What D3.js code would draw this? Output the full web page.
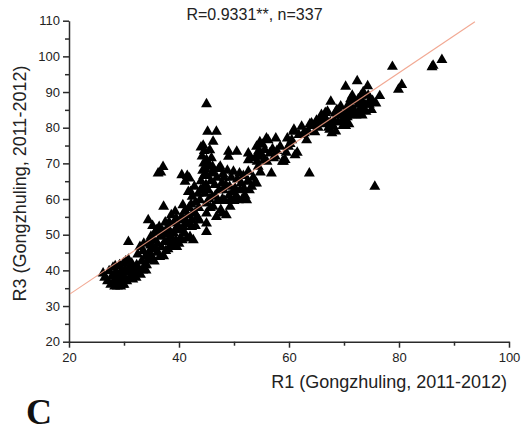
<!DOCTYPE html>
<html lang="en">
<head>
  <meta charset="UTF-8">
  <title>R1 vs R3 Gongzhuling</title>
  <script src="https://d3js.org/d3.v7.min.js"></script>
  <style>
    body { margin: 0; background: #fff; }
    svg { display: block; }
    .axis path, .axis line { stroke: #2a2a2a; stroke-width: 1.5px; }
    .axis text { font-family: "Liberation Sans", Arial, sans-serif; font-size: 13px; fill: #222; }
    .lbl { font-family: "Liberation Sans", Arial, sans-serif; fill: #222; }
  </style>
</head>
<body>
<script>
// R1 (x) and R3 (y); one line per x-band, r1/r3 lines align
const r1 = [
  26.2,26.5,27.0,27.3,27.6,27.8,28.0,28.0,
  28.3,28.5,28.6,28.8,29.0,29.0,29.2,29.4,29.5,29.6,29.8,29.9,28.4,29.3,28.9,28.2,
  30.0,30.1,30.2,30.3,30.5,30.6,30.8,30.8,31.0,31.0,31.2,31.4,31.6,31.7,31.9,
  32.0,32.2,32.3,32.5,32.7,32.9,33.0,33.2,33.4,33.5,33.6,33.8,33.9,34.0,
  34.1,34.3,34.4,34.5,34.7,34.8,34.9,35.0,35.2,35.4,35.5,35.6,35.8,35.9,35.2,34.6,
  36.0,36.1,36.2,36.4,36.5,36.6,36.7,36.8,37.0,37.1,37.2,37.2,37.4,37.5,37.6,37.7,37.9,36.3,
  38.0,38.1,38.2,38.3,38.4,38.5,38.6,38.8,39.0,39.0,39.2,39.4,39.5,39.6,39.7,39.8,40.0,39.3,
  40.2,40.3,40.4,40.5,40.5,40.6,40.7,40.8,41.0,41.0,41.1,41.2,41.4,41.4,41.5,41.6,41.7,41.8,42.0,41.9,
  42.1,42.2,42.3,42.3,42.4,42.5,42.6,42.8,42.9,43.0,43.0,43.3,43.5,43.6,43.7,43.8,43.9,44.0,
  44.0,44.2,44.3,44.4,44.5,44.5,44.6,44.7,44.8,44.9,45.0,45.0,45.0,45.0,45.0,45.0,45.1,45.2,45.3,45.4,45.5,45.6,45.7,45.8,45.9,46.0,46.0,44.3,
  46.1,46.2,46.2,46.3,46.5,46.6,46.8,46.8,46.9,47.0,47.2,47.3,47.5,47.6,47.8,47.8,47.9,48.0,
  48.1,48.2,48.3,48.5,48.6,48.8,49.0,49.0,49.1,49.2,49.3,49.3,49.5,49.8,49.9,50.0,
  50.2,50.4,50.5,50.6,50.8,51.0,51.1,51.3,51.5,51.7,51.8,52.0,
  52.3,52.5,52.6,52.6,52.6,52.6,52.8,53.0,53.2,53.5,53.8,54.0,
  54.1,54.1,54.2,54.4,54.4,54.5,54.7,54.8,55.0,55.2,55.5,55.9,55.6,
  56.2,56.5,56.8,57.0,57.2,57.6,57.5,56.0,57.8,
  58.4,58.8,59.0,59.3,59.9,59.5,59.7,60.5,60.8,61.1,60.2,61.5,61.8,60.9,
  62.3,63.2,63.7,63.5,62.8,63.8,62.5,64.0,64.1,64.7,65.0,65.3,65.5,65.9,64.5,65.7,
  66.2,66.5,66.8,67.0,67.2,67.4,67.6,67.8,68.0,66.6,67.5,68.2,68.4,68.5,68.7,68.9,69.2,69.4,69.6,69.8,70.0,68.8,
  70.1,70.3,70.3,70.5,70.6,70.8,70.9,71.0,71.2,71.3,71.4,71.6,71.9,72.0,72.2,72.4,72.5,72.6,72.8,73.0,73.1,73.3,73.4,73.6,73.8,74.0,73.5,71.5,
  74.3,74.4,74.6,74.8,75.0,75.2,75.8,75.6,76.5,78.8,79.9,80.5,86.0,86.2,87.8
];
const r3 = [
  39.2,38.0,37.0,39.8,36.0,38.3,40.8,36.5,
  35.5,37.5,39.5,35.5,36.5,38.5,41.5,35.5,37.5,40.0,36.0,42.0,41.2,39.2,37.6,38.6,
  36.0,38.0,40.0,42.5,37.0,39.5,43.0,48.0,41.0,38.0,39.8,42.0,37.5,40.5,38.8,
  39.5,38.0,41.5,44.5,40.2,46.6,38.8,42.5,40.0,45.5,47.5,41.5,44.0,40.0,
  41.5,43.0,54.1,45.0,42.9,47.0,49.5,44.0,46.2,48.5,42.5,50.5,46.0,51.3,52.5,48.2,
  45.0,47.5,67.2,52.2,43.8,49.5,67.5,46.5,51.0,69.0,57.9,44.0,48.0,53.5,45.5,50.0,52.0,50.5,
  46.0,48.5,53.5,51.0,46.6,49.5,55.5,47.5,53.2,50.5,46.8,48.5,54.5,46.6,51.5,52.5,47.5,56.5,
  49.0,51.3,54.0,66.7,55.0,48.5,58.3,52.2,50.5,56.5,64.9,53.0,49.0,53.6,66.5,55.5,62.0,57.5,49.4,65.8,
  62.0,58.5,52.2,54.1,60.7,56.0,48.5,63.5,56.0,52.5,59.0,55.0,61.5,57.5,54.0,59.7,62.5,65.0,
  74.5,72.0,68.0,75.0,70.0,66.5,73.5,61.5,68.5,64.0,86.6,71.0,58.8,56.0,53.2,50.8,66.5,78.9,62.5,69.5,60.0,73.7,57.5,65.0,71.5,60.7,67.5,63.0,
  69.1,57.9,76.1,67.2,64.0,61.0,78.9,55.0,66.0,59.5,68.5,62.5,69.1,57.0,56.0,64.5,60.0,67.0,
  62.5,66.0,59.5,64.0,55.5,68.0,73.3,71.9,61.0,63.5,59.7,57.9,66.0,62.0,67.7,59.5,
  63.0,61.0,73.3,65.5,59.7,67.2,62.5,64.5,60.0,66.5,63.0,61.0,
  59.7,65.0,72.8,70.9,67.7,64.9,62.5,71.5,63.5,66.0,64.5,72.0,
  64.4,74.7,70.5,71.9,69.1,73.5,76.0,67.5,72.5,75.3,71.0,77.0,73.8,
  76.5,72.8,67.2,74.0,71.5,77.0,72.0,70.5,73.5,
  74.7,70.5,70.5,71.0,74.7,73.0,77.0,76.5,78.9,72.3,75.5,73.0,78.0,79.5,
  80.3,76.5,67.2,79.0,78.5,81.0,78.0,80.5,81.2,78.8,82.0,80.0,81.5,83.6,80.5,82.5,
  81.0,83.0,82.0,84.5,80.0,79.5,87.3,78.5,80.5,84.2,81.5,82.0,84.0,79.0,85.0,81.5,84.5,86.0,82.0,80.5,84.0,83.5,
  82.5,91.5,80.5,85.0,83.0,86.5,81.0,84.0,88.0,86.0,83.5,85.0,87.5,84.5,83.5,93.1,86.5,88.0,84.0,85.5,89.0,83.5,87.0,85.0,86.5,84.5,90.0,89.0,
  91.7,89.0,86.5,88.0,85.0,87.5,86.8,63.5,88.9,97.1,90.7,92.0,97.0,97.4,99.0
];

// linear fit drawn across the plot
const fitSlope = 1.037;
const fitIntercept = 12.45;
const fitRange = [20.2, 93.8];

const xTicks = [20, 40, 60, 80, 100];
const xMinor = [30, 50, 70, 90];
const yTicks = [20, 30, 40, 50, 60, 70, 80, 90, 100, 110];
const yMinor = [25, 35, 45, 55, 65, 75, 85, 95, 105];

const W = 525, H = 433;
const margin = { top: 20.7, left: 69, right: 16, bottom: 91.3 };

const svg = d3.select("body").append("svg")
  .attr("width", W)
  .attr("height", H);

const x = d3.scaleLinear().domain([20, 100]).range([margin.left, W - margin.right]);
const y = d3.scaleLinear().domain([20, 110]).range([H - margin.bottom, margin.top]);

// axes
svg.append("g")
  .attr("class", "axis")
  .attr("transform", `translate(0,${y(20)})`)
  .call(d3.axisBottom(x).tickValues(xTicks).tickSize(6).tickSizeOuter(0).tickPadding(5));
svg.append("g")
  .attr("class", "axis")
  .attr("transform", `translate(0,${y(20)})`)
  .call(d3.axisBottom(x).tickValues(xMinor).tickSize(4).tickFormat(""))
  .select(".domain").remove();

svg.append("g")
  .attr("class", "axis")
  .attr("transform", `translate(${x(20)},0)`)
  .call(d3.axisLeft(y).tickValues(yTicks).tickSize(6).tickSizeOuter(0).tickPadding(3));
svg.append("g")
  .attr("class", "axis")
  .attr("transform", `translate(${x(20)},0)`)
  .call(d3.axisLeft(y).tickValues(yMinor).tickSize(4).tickFormat(""))
  .select(".domain").remove();

// points
const tri = d3.symbol().type(d3.symbolTriangle).size(52);
svg.append("g")
  .selectAll("path")
  .data(r1.map((v, i) => [v, r3[i]]))
  .join("path")
  .attr("d", tri)
  .attr("transform", d => `translate(${x(d[0])},${y(d[1])})`)
  .attr("fill", "#000");

// fit line
svg.append("line")
  .attr("x1", x(fitRange[0]))
  .attr("y1", y(fitIntercept + fitSlope * fitRange[0]))
  .attr("x2", x(fitRange[1]))
  .attr("y2", y(fitIntercept + fitSlope * fitRange[1]))
  .attr("stroke", "#f09a80")
  .attr("stroke-width", 1.1)
  .attr("opacity", 0.85);

// texts
svg.append("text")
  .attr("class", "lbl")
  .attr("x", 254.5)
  .attr("y", 20)
  .attr("text-anchor", "middle")
  .style("font-size", "16px")
  .text("R=0.9331**, n=337");

svg.append("text")
  .attr("class", "lbl")
  .attr("x", 507)
  .attr("y", 388)
  .attr("text-anchor", "end")
  .style("font-size", "18px")
  .text("R1 (Gongzhuling, 2011-2012)");

svg.append("text")
  .attr("class", "lbl")
  .attr("transform", "translate(26,183.5) rotate(-90)")
  .attr("text-anchor", "middle")
  .style("font-size", "18px")
  .text("R3 (Gongzhuling, 2011-2012)");

svg.append("text")
  .attr("x", 26)
  .attr("y", 424)
  .style("font-family", "'Liberation Serif', 'Times New Roman', serif")
  .style("font-weight", "bold")
  .style("font-size", "36px")
  .attr("fill", "#111")
  .text("C");
</script>
</body>
</html>
